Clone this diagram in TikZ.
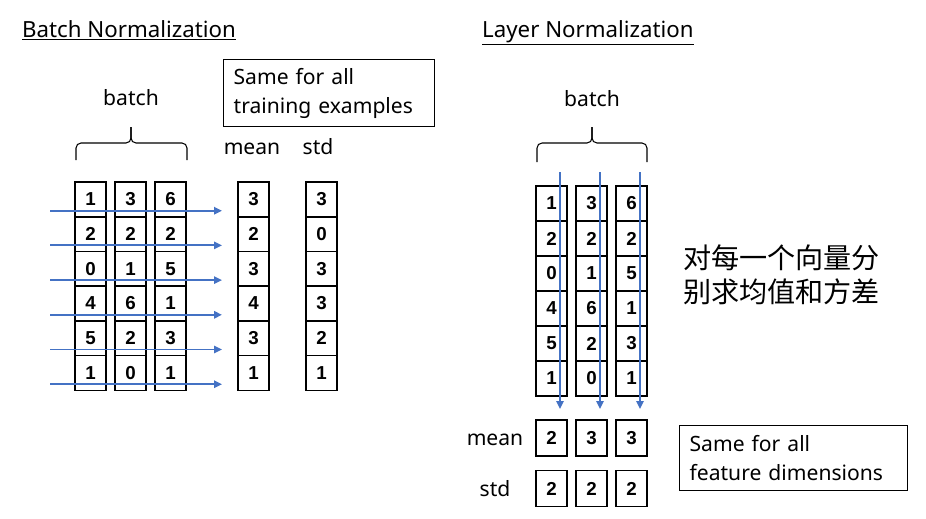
\documentclass[tikz,border=0pt]{standalone}
\usepackage{fontspec}
\setmainfont{Noto Sans}
\newfontfamily\cjk{Noto Sans CJK SC}
\newfontfamily\numfont{Liberation Sans}
\usepackage{xcolor}
\usepackage{tikz}
\usetikzlibrary{arrows.meta,positioning}
\definecolor{flowblue}{RGB}{68,114,196}

\begin{document}
\begin{tikzpicture}[x=0.03cm, y=0.03cm,
  cell/.style={draw, line width=1.2pt, minimum width=0.93cm, minimum height=1.05cm, inner sep=0pt, font=\numfont\fontsize{16}{16}\selectfont\bfseries},
  lbl/.style={inner sep=0pt, font=\fontsize{18}{22}\selectfont},
  note/.style={draw, line width=1.1pt, align=left, inner xsep=0.3cm, inner ysep=0pt, font=\fontsize{18}{25}\selectfont},
  arr/.style={-{Triangle[length=2.4mm, width=2.2mm]}, flowblue, line width=1.6pt},
  brc/.style={line width=0.9pt, rounded corners=0.15cm}
]
\useasboundingbox (0,0) rectangle (926,-518);

% Batch Normalization
\node[lbl, anchor=base west, font=\fontsize{19}{22}\selectfont] (bn-title) at (22,-37) {\underline{Batch Normalization}};
\node[lbl, anchor=base] (bn-batch) at (131,-105) {batch};
\draw[brc] (76,-160) -- (76,-143) -- (131,-143) -- (131,-127);
\draw[brc] (131,-127) -- (131,-143) -- (187,-143) -- (187,-160);
\node[note, anchor=north west, text width=5.73cm, minimum height=2.01cm] (bn-note) at (223,-59) {Same for all\\training examples};
\node[lbl, anchor=base] (bn-mean) at (252,-154) {mean};
\node[lbl, anchor=base] (bn-std) at (318,-154) {std};

\foreach \row [count=\r] in {{1,3,6},{2,2,2},{0,1,5},{4,6,1},{5,2,3},{1,0,1}} {
  \foreach \v [count=\c] in \row {
    \node[cell] (bn-\r-\c) at ({50.5+40*\c}, {-164.65-34.7*\r}) {\v};
  }
}
\foreach \v [count=\r] in {3,2,3,4,3,1}
  \node[cell] (bm-\r) at (253.5, {-164.65-34.7*\r}) {\v};
\foreach \v [count=\r] in {3,0,3,3,2,1}
  \node[cell] (bs-\r) at (321.5, {-164.65-34.7*\r}) {\v};

% arrows across each feature
\foreach \r in {1,...,6} {
  \coordinate (bin\r) at (50, {-176-34.7*\r});
  \coordinate (bout\r) at (222, {-176-34.7*\r});
  \draw[arr] (bin\r) -- (bout\r);
}

% Layer Normalization
\node[lbl, anchor=base west, font=\fontsize{19}{22}\selectfont] (ln-title) at (482,-37) {\underline{Layer Normalization}};
\node[lbl, anchor=base] (ln-batch) at (592,-106) {batch};
\draw[brc] (537,-162) -- (537,-143) -- (592,-143) -- (592,-127);
\draw[brc] (592,-127) -- (592,-143) -- (647,-143) -- (647,-162);

\foreach \row [count=\r] in {{1,3,6},{2,2,2},{0,1,5},{4,6,1},{5,2,3},{1,0,1}} {
  \foreach \v [count=\c] in \row {
    \node[cell] (ln-\r-\c) at ({511.5+40*\c}, {-168.5-35*\r}) {\v};
  }
}
\foreach \v [count=\c] in {2,3,3}
  \node[cell, minimum height=1.08cm] (lm-\c) at ({511.5+40*\c}, -438) {\v};
\foreach \v [count=\c] in {2,2,2}
  \node[cell, minimum height=1.08cm] (lsd-\c) at ({511.5+40*\c}, -488.5) {\v};

% arrows down each sample
\foreach \c in {1,2,3} {
  \coordinate (ltop\c) at ({520+40*\c}, -172);
  \coordinate (lbot\c) at ({520+40*\c}, -409);
  \draw[arr] (ltop\c) -- (lbot\c);
}

\node[lbl, anchor=base] (ln-mean) at (495,-445) {mean};
\node[lbl, anchor=base] (ln-std) at (495,-496) {std};
\node[lbl, anchor=west, align=left, font=\fontsize{24}{29}\selectfont\cjk] (ln-zh) at (683,-275) {对每一个向量分\\别求均值和方差};
\node[note, anchor=north west, text width=6.24cm, minimum height=1.95cm] (ln-note) at (679,-425) {Same for all\\feature dimensions};
\end{tikzpicture}
\end{document}
